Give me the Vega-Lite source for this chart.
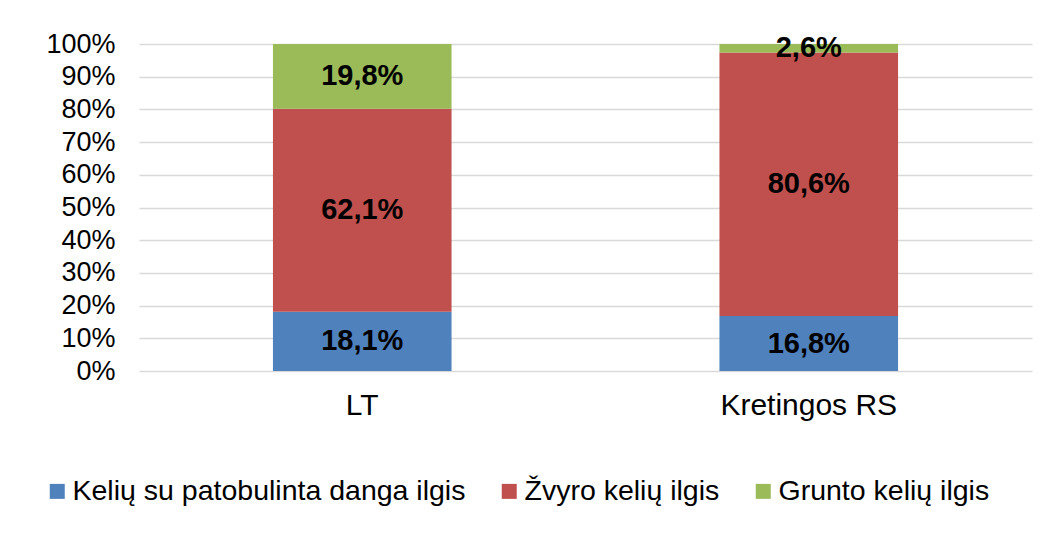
{
  "$schema": "https://vega.github.io/schema/vega-lite/v6.json",
  "width": 893,
  "height": 327,
  "autosize": {"type": "none"},
  "padding": {"left": 139, "top": 44, "right": 18, "bottom": 173},
  "background": "white",
  "data": {"values": [
    {"region": "LT", "type": "Kelių su patobulinta danga ilgis", "ord": 1, "value": 18.1, "label": "18,1%"},
    {"region": "LT", "type": "Žvyro kelių ilgis", "ord": 2, "value": 62.1, "label": "62,1%"},
    {"region": "LT", "type": "Grunto kelių ilgis", "ord": 3, "value": 19.8, "label": "19,8%"},
    {"region": "Kretingos RS", "type": "Kelių su patobulinta danga ilgis", "ord": 1, "value": 16.8, "label": "16,8%"},
    {"region": "Kretingos RS", "type": "Žvyro kelių ilgis", "ord": 2, "value": 80.6, "label": "80,6%"},
    {"region": "Kretingos RS", "type": "Grunto kelių ilgis", "ord": 3, "value": 2.6, "label": "2,6%"}
  ]},
  "transform": [
    {"stack": "value", "groupby": ["region"], "sort": [{"field": "ord"}], "as": ["v0", "v1"]}
  ],
  "encoding": {
    "x": {
      "field": "region", "type": "nominal", "sort": ["LT", "Kretingos RS"],
      "scale": {"paddingInner": 0.6, "paddingOuter": 0.3},
      "axis": {"title": null, "labelAngle": 0, "ticks": false, "domain": false, "labelPadding": 19,
               "labelFontSize": 30, "labelColor": "#000000", "labelFont": "Liberation Sans"}
    }
  },
  "layer": [
    {
      "mark": {"type": "bar"},
      "encoding": {
        "y": {"field": "v0", "type": "quantitative", "scale": {"domain": [0, 100]},
              "axis": {"title": null, "values": [0,10,20,30,40,50,60,70,80,90,100], "labelExpr": "datum.value + '%'"}},
        "y2": {"field": "v1"},
        "color": {
          "field": "type", "type": "nominal",
          "sort": ["Kelių su patobulinta danga ilgis", "Žvyro kelių ilgis", "Grunto kelių ilgis"],
          "scale": {"domain": ["Kelių su patobulinta danga ilgis", "Žvyro kelių ilgis", "Grunto kelių ilgis"],
                    "range": ["#4F81BD", "#C0504D", "#9BBB59"]},
          "legend": {"title": null, "orient": "none", "direction": "horizontal", "legendX": -96, "legendY": 433,
                     "symbolType": "square", "symbolSize": 225, "symbolStrokeWidth": 0,
                     "labelFontSize": 28.5, "labelFont": "Liberation Sans", "labelColor": "#000000",
                     "labelOffset": 1, "columnPadding": 29, "labelLimit": 600}
        }
      }
    },
    {
      "transform": [{"fold": ["v0", "v1"], "as": ["edge", "pos"]}],
      "mark": {"type": "text", "font": "Liberation Sans", "fontWeight": "bold", "fontSize": 29, "color": "#000000", "baseline": "middle"},
      "encoding": {
        "y": {"field": "pos", "type": "quantitative", "aggregate": "mean", "stack": null,
              "axis": {"title": null, "values": [0,10,20,30,40,50,60,70,80,90,100], "labelExpr": "datum.value + '%'"}},
        "text": {"field": "label"}
      }
    }
  ],
  "config": {
    "view": {"stroke": null},
    "axisY": {"ticks": false, "domain": false, "labelOverlap": false, "labelPadding": 24, "labelFontSize": 27,
              "labelColor": "#000000", "labelFont": "Liberation Sans", "gridColor": "#d9d9d9", "gridWidth": 1.5}
  }
}
